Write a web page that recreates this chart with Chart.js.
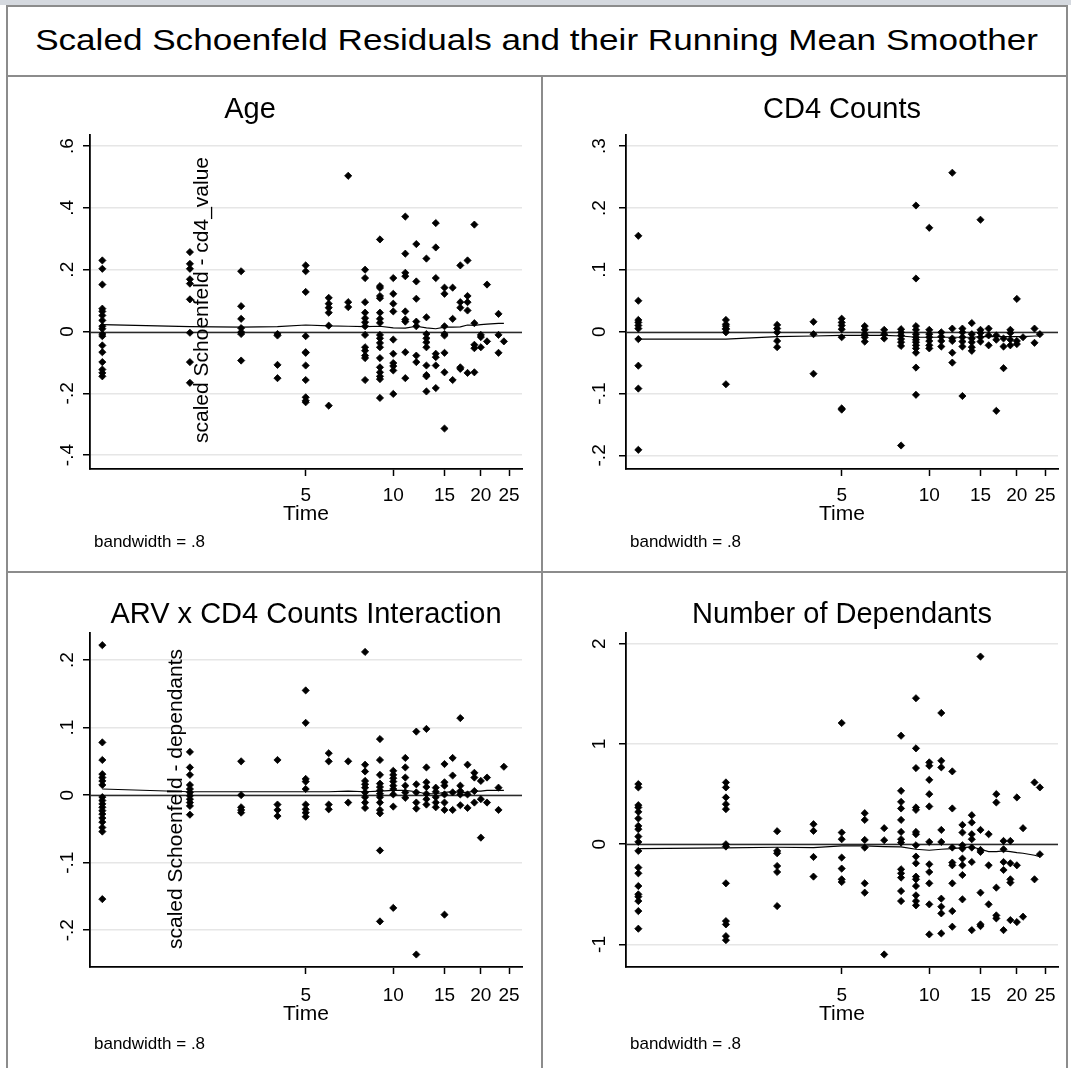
<!DOCTYPE html>
<html>
<head>
<meta charset="utf-8">
<title>Scaled Schoenfeld Residuals</title>
<script src="https://cdn.jsdelivr.net/npm/chart.js@4.4.1/dist/chart.umd.min.js"></script>
<style>
    body { margin: 0; width: 1071px; height: 1068px; position: relative; overflow: hidden; background: #fff;
           font-family: "Liberation Sans", Arial, sans-serif; }
    .rule { position: absolute; background: #8c8c8c; }
    #topstrip { position: absolute; left: 0; top: 0; width: 1071px; height: 5px; background: #d5d9df; }
    #maintitle { position: absolute; left: 8px; top: 7px; width: 1058px; height: 68px; text-align: center;
                 font-size: 30px; line-height: 66px; color: #000; white-space: nowrap; }
    #maintitle span { display: inline-block; transform: scaleX(1.17); }
    canvas.panel { position: absolute; }
</style>
</head>
<body>
<div id="topstrip"></div>
<div class="rule" style="left:6px;top:5px;width:1062px;height:2px"></div>
<div class="rule" style="left:6px;top:5px;width:2px;height:1063px"></div>
<div class="rule" style="left:1066px;top:5px;width:2px;height:1063px"></div>
<div class="rule" style="left:6px;top:75px;width:1062px;height:2px"></div>
<div class="rule" style="left:541px;top:75px;width:2px;height:993px"></div>
<div class="rule" style="left:6px;top:571px;width:1062px;height:2px"></div>
<div id="maintitle"><span>Scaled Schoenfeld Residuals and their Running Mean Smoother</span></div>

<canvas class="panel" id="p-age" width="530" height="490" style="left:8px;top:78px"></canvas>
<canvas class="panel" id="p-cd4" width="530" height="490" style="left:544px;top:78px"></canvas>
<canvas class="panel" id="p-arv" width="530" height="490" style="left:8px;top:576px"></canvas>
<canvas class="panel" id="p-dep" width="530" height="490" style="left:544px;top:576px"></canvas>

<script>
(function () {
    'use strict';

    // ── Data ──────────────────────────────────────────────────────────────────

    var eventTimes = [1, 2, 3, 4, 5, 6, 7, 8, 9, 10, 11, 12, 13, 14, 15, 16, 17, 18, 19, 20, 21, 23, 24];
    var xTickValues = [5, 10, 15, 20, 25];

    // residuals grouped by event time (same order as eventTimes)
    var ageResid = [
        [0.23, 0.203, 0.152, 0.074, 0.065, 0.052, 0.036, 0.017, 0.009, -0.008, -0.015, -0.045, -0.067, -0.099, -0.123, -0.134, -0.145],
        [0.257, 0.219, 0.203, 0.169, 0.155, 0.104, -0.004, -0.099, -0.166],
        [0.195, 0.082, 0.041, 0.011, -0.002, -0.008, -0.094],
        [-0.008, -0.013, -0.108, -0.151],
        [0.214, 0.195, 0.128, -0.015, -0.067, -0.069, -0.11, -0.157, -0.213, -0.224, -0.229],
        [0.109, 0.09, 0.077, 0.061, 0.019, -0.24],
        [0.504, 0.095, 0.079],
        [0.2, 0.173, 0.095, 0.061, 0.043, 0.03, 0.017, -0.011, -0.051, -0.062, -0.078, -0.086, -0.157],
        [0.298, 0.147, 0.141, 0.115, 0.108, 0.061, 0.041, 0.028, -0.011, -0.022, -0.037, -0.051, -0.086, -0.116, -0.132, -0.145, -0.154, -0.215],
        [0.173, 0.122, 0.09, 0.065, -0.026, -0.072, -0.102, -0.112, -0.126, -0.202],
        [0.372, 0.252, 0.19, 0.179, 0.065, 0.039, 0.032, -0.067, -0.151],
        [0.283, 0.162, 0.106, 0.032, 0.017, -0.078, -0.099],
        [0.236, 0.046, -0.008, -0.022, -0.035, -0.051, -0.11, -0.141, -0.145, -0.194],
        [0.351, 0.272, 0.173, -0.072, -0.083, -0.11, -0.183],
        [0.142, 0.122, 0.017, -0.008, -0.013, -0.069, -0.132, -0.314],
        [0.142, 0.041, -0.157],
        [0.214, 0.095, 0.077, -0.116, -0.121],
        [0.23, 0.115, 0.095, 0.068, -0.134],
        [0.346, 0.027, -0.043, -0.054, -0.132],
        [-0.011, -0.018, -0.051],
        [0.152, -0.032],
        [0.057, -0.011, -0.069],
        [-0.032]
    ];
    var ageSmooth = [0.022, 0.016, 0.014, 0.016, 0.021, 0.018, 0.017, 0.016, 0.017, 0.012, 0.011, 0.017,
                     0.012, 0.009, 0.014, 0.014, 0.015, 0.021, 0.02, 0.022, 0.024, 0.026, 0.026];

    var cd4Resid = [
        [0.155, 0.05, 0.019, 0.015, 0.01, 0.005, -0.012, -0.055, -0.092, -0.191],
        [0.019, 0.012, 0.009, 0.005, 0.004, -0.001, -0.085],
        [0.011, 0.005, -0.001, -0.015, -0.025],
        [0.016, -0.004, -0.068],
        [0.021, 0.015, 0.01, 0.004, -0.009, -0.124, -0.126],
        [0.009, 0.003, -0.004, -0.009, -0.016],
        [0.003, -0.004, -0.011],
        [0.004, -0.001, -0.006, -0.012, -0.017, -0.023, -0.184],
        [0.204, 0.086, 0.009, 0.003, -0.004, -0.009, -0.013, -0.017, -0.022, -0.027, -0.034, -0.058, -0.102],
        [0.168, 0.003, -0.004, -0.009, -0.015, -0.022, -0.027],
        [-0.001, -0.008, -0.015, -0.024],
        [0.257, 0.005, -0.011, -0.015, -0.034, -0.05],
        [0.005, -0.001, -0.009, -0.016, -0.024, -0.104],
        [0.014, -0.004, -0.011, -0.017, -0.025, -0.031],
        [0.181, 0.003, -0.002, -0.009, -0.016],
        [0.005, -0.006, -0.022],
        [-0.006, -0.013, -0.128],
        [-0.011, -0.024, -0.059],
        [0.003, -0.002, -0.013, -0.022],
        [0.053, -0.015, -0.02],
        [-0.009],
        [0.005, -0.018],
        [-0.004]
    ];
    var cd4Smooth = [-0.012, -0.012, -0.008, -0.007, -0.006, -0.006, -0.006, -0.007, -0.009, -0.009, -0.009, -0.009,
                     -0.009, -0.009, -0.008, -0.008, -0.008, -0.008, -0.008, -0.008, -0.008, -0.007, -0.007];

    var arvResid = [
        [0.222, 0.078, 0.052, 0.031, 0.026, 0.021, 0.015, -0.003, -0.008, -0.013, -0.018, -0.023, -0.028, -0.034, -0.04, -0.048, -0.054, -0.154],
        [0.064, 0.041, 0.03, 0.015, 0.009, 0.004, -0.001, -0.006, -0.011, -0.016, -0.029],
        [0.05, 0, -0.018, -0.022, -0.026],
        [0.052, -0.014, -0.022, -0.031],
        [0.155, 0.107, 0.024, 0.02, 0.009, -0.014, -0.021, -0.026, -0.032],
        [0.062, 0.05, -0.014, -0.021],
        [0.05, -0.011],
        [0.212, 0.045, 0.035, 0.021, 0.016, 0.011, 0.004, -0.003, -0.011, -0.019],
        [0.083, 0.052, 0.03, 0.017, 0.012, 0.007, 0.002, -0.003, -0.011, -0.022, -0.027, -0.082, -0.187],
        [0.036, 0.03, 0.025, 0.02, 0.014, 0.009, 0.001, -0.017, -0.167],
        [0.055, 0.041, 0.026, 0.014, 0.004, -0.004],
        [0.094, 0.016, 0.004, -0.011, -0.02, -0.236],
        [0.098, 0.041, 0.019, 0.012, 0.002, -0.006, -0.014],
        [0.011, 0.005, -0.003, -0.011, -0.018],
        [0.046, 0.019, 0.014, 0.001, -0.011, -0.022, -0.177],
        [0.055, 0.029, 0.004, -0.022],
        [0.114, 0.014, 0.006, 0.001, -0.015],
        [0.045, 0.001, -0.019],
        [0.033, 0.026, 0.006, -0.011],
        [0.021, -0.006, -0.063],
        [0.026, -0.011],
        [0.011, -0.022],
        [0.042]
    ];
    var arvSmooth = [0.009, 0.005, 0.005, 0.005, 0.005, 0.005, 0.006, 0.005, 0.006, 0.007, 0.007, 0.005,
                     0.002, 0.002, 0.004, 0.005, 0.004, 0.004, 0.006, 0.006, 0.007, 0.007, 0.007];

    var depResid = [
        [0.6, 0.567, 0.39, 0.367, 0.323, 0.257, 0.183, 0.15, 0.077, 0.023, -0.067, -0.233, -0.29, -0.417, -0.5, -0.523, -0.567, -0.667, -0.843],
        [0.617, 0.567, 0.467, 0.4, 0.35, 0, -0.023, -0.39, -0.767, -0.8, -0.917, -0.957],
        [0.13, -0.067, -0.09, -0.217, -0.277, -0.617],
        [0.2, 0.133, -0.127, -0.323],
        [1.21, 0.117, 0.05, -0.133, -0.243, -0.35, -0.377],
        [0.31, 0.243, 0.043, -0.033, -0.39, -0.483],
        [0.16, 0.04, -1.1],
        [1.083, 0.533, 0.423, 0.357, 0.243, 0.123, 0.05, 0.017, -0.25, -0.29, -0.333, -0.467, -0.567],
        [1.457, 0.957, 0.76, 0.367, 0.343, 0.123, 0.1, -0.01, -0.123, -0.19, -0.323, -0.35, -0.417, -0.51, -0.567, -0.61],
        [0.817, 0.783, 0.643, 0.5, 0.377, 0.023, -0.2, -0.277, -0.39, -0.6, -0.9],
        [1.31, 0.833, 0.767, 0.143, 0.023, -0.543, -0.623, -0.69, -0.89],
        [0.727, 0.357, -0.033, -0.183, -0.21, -0.39, -0.667, -0.823],
        [0.193, 0.117, -0.01, -0.043, -0.143, -0.21, -0.307, -0.55],
        [0.29, 0.217, 0.1, 0.05, -0.033, -0.177, -0.857],
        [1.873, 0.143, -0.057, -0.077, -0.483, -0.8, -0.817],
        [0.1, -0.21, -0.6],
        [0.5, 0.417, -0.433, -0.71, -0.74],
        [0.033, -0.05, -0.177, -0.257, -0.857],
        [0.033, -0.19, -0.35, -0.383, -0.757],
        [0.467, -0.21, -0.777],
        [0.16, -0.723],
        [0.617, -0.35],
        [0.567, -0.1]
    ];
    var depSmooth = [-0.043, -0.037, -0.03, -0.033, -0.017, -0.017, -0.023, -0.027, -0.05, -0.06, -0.05, -0.043,
                     -0.033, -0.027, -0.05, -0.073, -0.073, -0.067, -0.073, -0.083, -0.09, -0.11, -0.123];

    // ── Layout helpers ────────────────────────────────────────────────────────

    var FONT = '"Liberation Sans", Arial, sans-serif';

    function flatten(resid) {
        var pts = [];
        eventTimes.forEach(function (t, i) {
            resid[i].forEach(function (v) { pts.push({ x: t, y: v }); });
        });
        return pts;
    }

    function textPlugin(cfg) {
        return {
            id: 'panelText',
            beforeDatasetsDraw: function (chart) {
                var ctx = chart.ctx, a = chart.chartArea;
                var y0 = Math.round(chart.scales.y.getPixelForValue(0)) + 0.5;
                ctx.save();
                ctx.strokeStyle = '#2a2a2a';
                ctx.lineWidth = 1.5;
                ctx.beginPath();
                ctx.moveTo(a.left, y0);
                ctx.lineTo(a.right, y0);
                ctx.stroke();
                ctx.restore();
            },
            afterDraw: function (chart) {
                var ctx = chart.ctx, a = chart.chartArea, ys = chart.scales.y;
                ctx.save();
                ctx.fillStyle = '#000';

                // rotated y tick labels
                ctx.font = '19px ' + FONT;
                ctx.textAlign = 'center';
                ctx.textBaseline = 'middle';
                cfg.yTicks.forEach(function (v, i) {
                    ctx.save();
                    ctx.translate(a.left - cfg.yLabelGap, ys.getPixelForValue(v));
                    ctx.rotate(-Math.PI / 2);
                    ctx.fillText(cfg.yLabels[i], 0, 0);
                    ctx.restore();
                });

                // panel title
                ctx.font = '29px ' + FONT;
                ctx.textBaseline = 'alphabetic';
                ctx.fillText(cfg.title, cfg.titleX, cfg.titleY);

                // x axis title
                ctx.font = '21px ' + FONT;
                ctx.fillText('Time', (a.left + a.right) / 2, a.bottom + 51 + cfg.rowDy);

                // note
                ctx.font = '17px ' + FONT;
                ctx.textAlign = 'left';
                ctx.fillText('bandwidth = .8', a.left + 4, a.bottom + 78 + 2 * cfg.rowDy);

                // stray y title left inside the plot
                if (cfg.yTitle) {
                    ctx.font = '21px ' + FONT;
                    ctx.textAlign = 'center';
                    ctx.textBaseline = 'middle';
                    ctx.translate(cfg.yTitleX, cfg.yTitleY);
                    ctx.rotate(-Math.PI / 2);
                    ctx.fillText(cfg.yTitle, 0, 0);
                }
                ctx.restore();
            }
        };
    }

    function makePanel(id, cfg) {
        var ctx = document.getElementById(id).getContext('2d');
        return new Chart(ctx, {
            type: 'scatter',
            data: {
                datasets: [
                    {
                        data: flatten(cfg.resid),
                        pointStyle: 'rectRot',
                        pointRadius: 3.6,
                        backgroundColor: '#000',
                        borderColor: '#000',
                        borderWidth: 0.8,
                    },
                    {
                        data: eventTimes.map(function (t, i) { return { x: t, y: cfg.smooth[i] }; }),
                        showLine: true,
                        pointRadius: 0,
                        borderColor: '#000',
                        borderWidth: 1.2,
                        tension: 0,
                    }
                ]
            },
            options: {
                responsive: false,
                animation: false,
                events: [],
                layout: { padding: { left: 75, right: 16, top: 57, bottom: 59 } },
                plugins: { legend: { display: false }, tooltip: { enabled: false }, title: { display: false } },
                scales: {
                    x: {
                        type: 'logarithmic',
                        min: 0.907,
                        max: 27.7,
                        afterBuildTicks: function (s) { s.ticks = xTickValues.map(function (v) { return { value: v }; }); },
                        afterFit: function (s) { s.height = 40; },
                        grid: { drawOnChartArea: false, drawTicks: true, tickLength: 7, tickColor: '#000', tickWidth: 1.5 },
                        border: { display: true, color: '#000', width: 1.8 },
                        ticks: {
                            autoSkip: false, maxRotation: 0, minRotation: 0, padding: 8 + cfg.rowDy, color: '#000',
                            font: { family: FONT, size: 19 },
                            callback: function (v) { return String(v); }
                        }
                    },
                    y: {
                        type: 'linear',
                        min: cfg.yMin,
                        max: cfg.yMax,
                        afterBuildTicks: function (s) { s.ticks = cfg.yTicks.map(function (v) { return { value: v }; }); },
                        afterFit: function (s) { s.width = 7; },
                        grid: { color: '#e6e6e6', lineWidth: 1.5, drawTicks: true, tickLength: 7, tickColor: '#000', tickWidth: 1.5 },
                        border: { display: true, color: '#000', width: 1.8 },
                        ticks: { display: false }
                    }
                }
            },
            plugins: [textPlugin(cfg)]
        });
    }

    // ── Panels ────────────────────────────────────────────────────────────────

    makePanel('p-age', {
        title: 'Age', titleX: 242, titleY: 40, rowDy: 0,
        resid: ageResid, smooth: ageSmooth,
        yMin: -0.445, yMax: 0.636,
        yTicks: [-0.4, -0.2, 0, 0.2, 0.4, 0.6], yLabels: ['-.4', '-.2', '0', '.2', '.4', '.6'], yLabelGap: 22,
        yTitle: 'scaled Schoenfeld - cd4_value', yTitleX: 194, yTitleY: 222
    });

    makePanel('p-cd4', {
        title: 'CD4 Counts', titleX: 298, titleY: 40, rowDy: 0,
        resid: cd4Resid, smooth: cd4Smooth,
        yMin: -0.222, yMax: 0.318,
        yTicks: [-0.2, -0.1, 0, 0.1, 0.2, 0.3], yLabels: ['-.2', '-.1', '0', '.1', '.2', '.3'], yLabelGap: 26
    });

    makePanel('p-arv', {
        title: 'ARV x CD4 Counts Interaction', titleX: 298, titleY: 47, rowDy: 2,
        resid: arvResid, smooth: arvSmooth,
        yMin: -0.2545, yMax: 0.24,
        yTicks: [-0.2, -0.1, 0, 0.1, 0.2], yLabels: ['-.2', '-.1', '0', '.1', '.2'], yLabelGap: 22,
        yTitle: 'scaled Schoenfeld - dependants', yTitleX: 168, yTitleY: 223
    });

    makePanel('p-dep', {
        title: 'Number of Dependants', titleX: 298, titleY: 47, rowDy: 2,
        resid: depResid, smooth: depSmooth,
        yMin: -1.225, yMax: 2.108,
        yTicks: [-1, 0, 1, 2], yLabels: ['-1', '0', '1', '2'], yLabelGap: 26
    });

}());
</script>
</body>
</html>
